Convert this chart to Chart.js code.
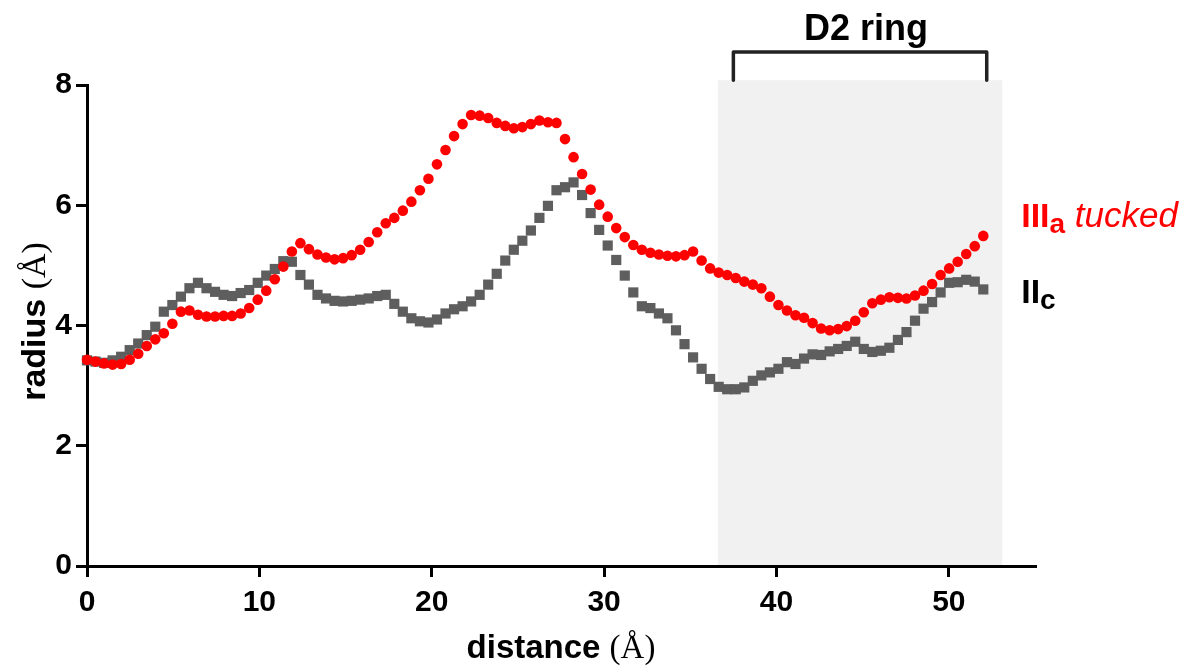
<!DOCTYPE html>
<html>
<head>
<meta charset="utf-8">
<script src="https://cdn.jsdelivr.net/npm/chart.js@4.4.1/dist/chart.umd.min.js"></script>
<style>
  html, body { margin: 0; padding: 0; background: #fff; }
  #caixa { position: relative; width: 1191px; height: 667px; }
</style>
</head>
<body>
<div id="caixa"><canvas id="grafico" width="1191" height="667"></canvas></div>
<script>
// raio (Å) ao longo do canal, um ponto a cada ~0.5 Å
const raioIIIaTucked = [
  3.43, 3.40, 3.37, 3.35, 3.36, 3.43, 3.53, 3.66, 3.77, 3.87,
  4.03, 4.23, 4.25, 4.18, 4.15, 4.15, 4.16, 4.16, 4.20, 4.29,
  4.43, 4.58, 4.77, 4.98, 5.23, 5.37, 5.27, 5.18, 5.13, 5.10,
  5.12, 5.17, 5.26, 5.39, 5.55, 5.70, 5.79, 5.91, 6.06, 6.25,
  6.44, 6.68, 6.92, 7.15, 7.35, 7.50, 7.49, 7.45, 7.37, 7.32,
  7.28, 7.30, 7.35, 7.41, 7.38, 7.37, 7.10, 6.80, 6.52, 6.26,
  6.01, 5.81, 5.62, 5.47, 5.34, 5.26, 5.21, 5.18, 5.16, 5.15,
  5.17, 5.23, 5.08, 4.95, 4.88, 4.84, 4.79, 4.73, 4.68, 4.62,
  4.48, 4.34, 4.25, 4.17, 4.13, 4.04, 3.95, 3.92, 3.94, 3.99,
  4.08, 4.22, 4.37, 4.43, 4.47, 4.46, 4.45, 4.50, 4.58, 4.69,
  4.84, 4.95, 5.06, 5.19, 5.32, 5.49
];
const raioIIc = [
  3.42, 3.40, 3.38, 3.42, 3.48, 3.59, 3.70, 3.84, 3.98, 4.23,
  4.34, 4.48, 4.62, 4.71, 4.62, 4.56, 4.51, 4.49, 4.54, 4.59,
  4.71, 4.83, 4.94, 5.07, 5.06, 4.84, 4.68, 4.51, 4.45, 4.41,
  4.40, 4.41, 4.43, 4.45, 4.49, 4.51, 4.36, 4.23, 4.12, 4.07,
  4.05, 4.10, 4.20, 4.27, 4.32, 4.40, 4.51, 4.68, 4.86, 5.08,
  5.26, 5.41, 5.58, 5.79, 5.99, 6.25, 6.30, 6.38, 6.17, 5.87,
  5.59, 5.33, 5.09, 4.83, 4.55, 4.32, 4.29, 4.20, 4.12, 3.92,
  3.69, 3.47, 3.28, 3.11, 2.98, 2.94, 2.94, 2.97, 3.08, 3.17,
  3.22, 3.28, 3.39, 3.36, 3.45, 3.52, 3.51, 3.57, 3.61, 3.66,
  3.73, 3.61, 3.56, 3.58, 3.63, 3.76, 3.89, 4.08, 4.28, 4.39,
  4.55, 4.71, 4.72, 4.76, 4.73, 4.60
];
const distanciaFinal = 52;
const distancias = raioIIIaTucked.map((_, i) => i * distanciaFinal / (raioIIIaTucked.length - 1));
const ticksX = [0, 10, 20, 30, 40, 50];
const ticksY = [0, 2, 4, 6, 8];
const faixaD2 = [36.6, 53.1];      // região sombreada (Å)
const colcheteD2 = [37.5, 52.2];   // colchete "D2 ring" (Å)

const FONTE = '"Liberation Sans", Arial, sans-serif';
const SERIF = '"Liberation Serif", "Times New Roman", serif';

// desenha texto com partes de fontes diferentes
function textoMisto(ctx, partes, x, y, alinhar) {
  let total = 0;
  partes.forEach(p => { ctx.font = p.font; total += ctx.measureText(p.t).width; });
  let cx = alinhar === 'center' ? x - total / 2 : x;
  partes.forEach(p => {
    ctx.font = p.font;
    ctx.fillStyle = p.cor || '#000';
    ctx.fillText(p.t, cx, y + (p.dy || 0));
    cx += ctx.measureText(p.t).width;
  });
}

const anotacoes = {
  id: 'anotacoes',
  beforeDraw(chart) {
    const { ctx, scales: { x, y } } = chart;
    const x0 = x.getPixelForValue(faixaD2[0]);
    const x1 = x.getPixelForValue(faixaD2[1]);
    const yt = y.getPixelForValue(8.08);
    const yb = y.getPixelForValue(0);
    ctx.save();
    ctx.fillStyle = '#f1f1f1';
    ctx.fillRect(x0, yt, x1 - x0, yb - yt);
    ctx.restore();
  },
  afterDraw(chart) {
    const { ctx, scales: { x, y } } = chart;
    ctx.save();
    ctx.textBaseline = 'alphabetic';

    // colchete D2
    const cx0 = x.getPixelForValue(colcheteD2[0]);
    const cx1 = x.getPixelForValue(colcheteD2[1]);
    const cyTopo = y.getPixelForValue(8.55);
    const cyBase = y.getPixelForValue(8.08);
    ctx.strokeStyle = '#222';
    ctx.lineWidth = 3.5;
    ctx.lineJoin = 'round';
    ctx.lineCap = 'round';
    ctx.beginPath();
    ctx.moveTo(cx0, cyBase);
    ctx.lineTo(cx0, cyTopo);
    ctx.lineTo(cx1, cyTopo);
    ctx.lineTo(cx1, cyBase);
    ctx.stroke();
    textoMisto(ctx, [{ t: 'D2 ring', font: 'bold 36px ' + FONTE }],
      x.getPixelForValue(45.2), y.getPixelForValue(8.75), 'center');

    // rótulos das séries
    textoMisto(ctx, [
      { t: 'III', font: 'bold 34px ' + FONTE, cor: '#ff0000' },
      { t: 'a', font: 'bold 28px ' + FONTE, cor: '#ff0000', dy: 6 },
      { t: ' tucked', font: 'italic 35px ' + FONTE, cor: '#ff0000' }
    ], x.getPixelForValue(54.2), y.getPixelForValue(5.64), 'left');
    textoMisto(ctx, [
      { t: 'II', font: 'bold 34px ' + FONTE },
      { t: 'c', font: 'bold 28px ' + FONTE, dy: 6 }
    ], x.getPixelForValue(54.2), y.getPixelForValue(4.38), 'left');

    // títulos dos eixos
    const meioX = (chart.chartArea.left + chart.chartArea.right) / 2;
    textoMisto(ctx, [
      { t: 'distance ', font: 'bold 33px ' + FONTE },
      { t: '(Å)', font: '33px ' + SERIF }
    ], meioX, 658, 'center');

    const meioY = (chart.chartArea.top + chart.chartArea.bottom) / 2;
    ctx.translate(45, meioY - 4);
    ctx.rotate(-Math.PI / 2);
    textoMisto(ctx, [
      { t: 'radius ', font: 'bold 34px ' + FONTE },
      { t: '(Å)', font: '34px ' + SERIF }
    ], 0, 0, 'center');
    ctx.restore();
  }
};

const eixoComum = {
  type: 'linear',
  border: { color: '#000', width: 3 },
  grid: { drawOnChartArea: false, drawTicks: true, tickLength: 11, color: '#000', lineWidth: 3 },
  title: { display: false }
};

new Chart(document.getElementById('grafico'), {
  type: 'scatter',
  data: {
    datasets: [{
      label: 'IIIa tucked',
      data: distancias.map((d, i) => ({ x: d, y: raioIIIaTucked[i] })),
      pointStyle: 'circle',
      pointRadius: 5.3,
      pointBorderWidth: 0,
      backgroundColor: '#ff0000',
      clip: false
    }, {
      label: 'IIc',
      data: distancias.map((d, i) => ({ x: d, y: raioIIc[i] })),
      pointStyle: 'rect',
      pointRadius: 7.2,
      pointBorderWidth: 0,
      backgroundColor: '#5e5e5e',
      clip: false
    }]
  },
  options: {
    responsive: false,
    devicePixelRatio: 1,
    animation: false,
    layout: { padding: { top: 85, right: 156, left: 0, bottom: 0 } },
    plugins: { legend: { display: false }, tooltip: { enabled: false } },
    scales: {
      x: {
        ...eixoComum,
        position: 'bottom',
        min: 0,
        max: 55,
        afterBuildTicks: s => { s.ticks = ticksX.map(v => ({ value: v })); },
        afterFit: s => { s.height = 101; },
        ticks: { color: '#000', font: { family: FONTE, size: 30, weight: 'bold' }, padding: 8, maxRotation: 0 }
      },
      y: {
        ...eixoComum,
        position: 'left',
        min: 0,
        max: 8,
        afterBuildTicks: s => { s.ticks = ticksY.map(v => ({ value: v })); },
        afterFit: s => { s.width = 87; },
        ticks: { color: '#000', font: { family: FONTE, size: 30, weight: 'bold' }, padding: 4 }
      }
    }
  },
  plugins: [anotacoes]
});
</script>
</body>
</html>
